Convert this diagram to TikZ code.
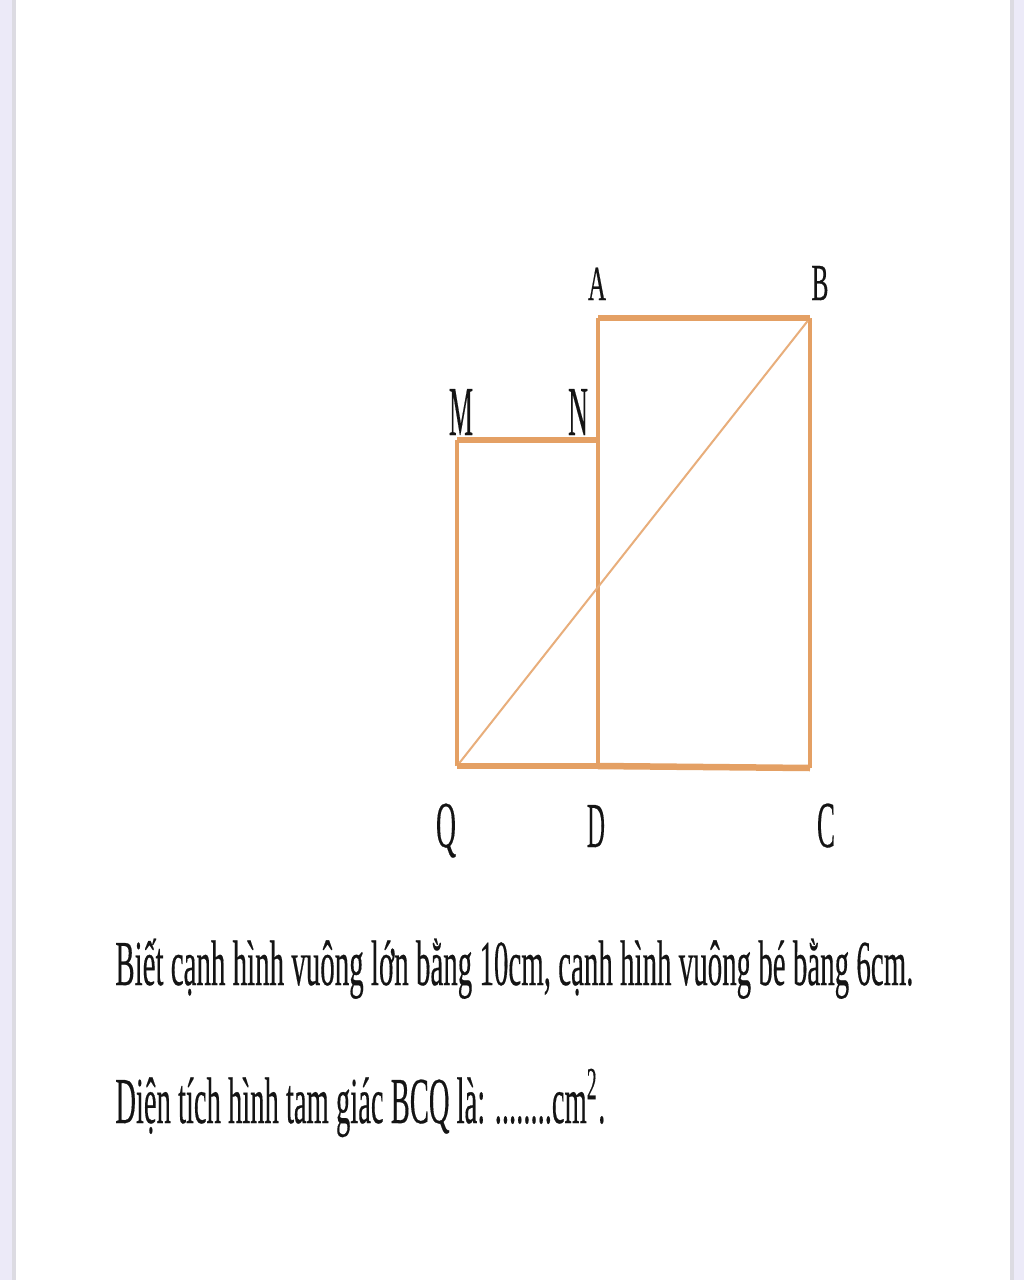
\documentclass[tikz,border=0pt]{standalone}
\usepackage{fontspec}
\setmainfont[FakeBold=0.4]{Liberation Serif}
\usepackage{graphicx}
\newdimen\pxu \pxu=0.02cm
\newcommand\fitbox[3]{\resizebox{#1\pxu}{#2\pxu}{\setbox0\hbox{#3}\ht0=\fontcharht\font`B\box0}}
\definecolor{orangeline}{RGB}{228,160,100}
\definecolor{lav}{RGB}{236,234,248}
\definecolor{edgegray}{RGB}{220,219,226}
\definecolor{textgray}{RGB}{20,20,20}
\tikzset{
  thickedge/.style={draw=orangeline, line width=6.5\pxu},
  thinedge/.style={draw=orangeline, line width=3.5\pxu},
  diag/.style={draw=orangeline!85, line width=2\pxu},
  lbl/.style={inner sep=0pt, anchor=base, text=textgray},
  para/.style={inner sep=0pt, anchor=base west, text=textgray}
}
\begin{document}
\begin{tikzpicture}[x=0.02cm,y=-0.02cm]
\useasboundingbox (0,0) rectangle (1024,1280);
\fill[white] (0,0) rectangle (1024,1280);
\fill[lav] (0,0) rectangle (12,1280);
\fill[edgegray] (12,0) rectangle (16,1280);
\fill[edgegray] (1010,0) rectangle (1014,1280);
\fill[lav] (1014,0) rectangle (1024,1280);

\coordinate (A) at (598,318);
\coordinate (B) at (810,318);
\coordinate (M) at (457,440);
\coordinate (N) at (598,440);
\coordinate (Q) at (457,766);
\coordinate (D) at (598,766);
\coordinate (C) at (810,768);

% thin sides
\draw[thinedge] (Q) -- (M);
\draw[thinedge] (D) -- (A);
\draw[thinedge] (C) -- (B);
\draw[diag] (Q) -- (B);
% thick sides
\draw[thickedge] (A) -- (B);
\draw[thickedge] (M) -- (N);
\draw[thickedge] (Q) -- (D);
\draw[thickedge] (D) -- (C);

% labels
\node[lbl] (lA) at (597,300) {\fitbox{18}{32}{A}};
\node[lbl] (lB) at (820,300) {\fitbox{17}{34}{B}};
\node[lbl] (lM) at (461,435) {\fitbox{24}{46}{M}};
\node[lbl] (lN) at (578,435) {\fitbox{20}{46}{N}};
\node[lbl] (lQ) at (446,847) {\fitbox{20}{43}{Q}};
\node[lbl] (lD) at (596,847) {\fitbox{18}{42}{D}};
\node[lbl] (lC) at (826,847) {\fitbox{18}{43}{C}};

% text
\node[para] (t1) at (115,985) {\fitbox{798}{42}{Biết cạnh hình vuông lớn bằng 10cm, cạnh hình vuông bé bằng 6cm.}};
\node[para] (t2) at (115,1123) {\fitbox{490}{43}{Diện tích hình tam giác BCQ là: ........cm\textsuperscript{2}.}};
\end{tikzpicture}
\end{document}
